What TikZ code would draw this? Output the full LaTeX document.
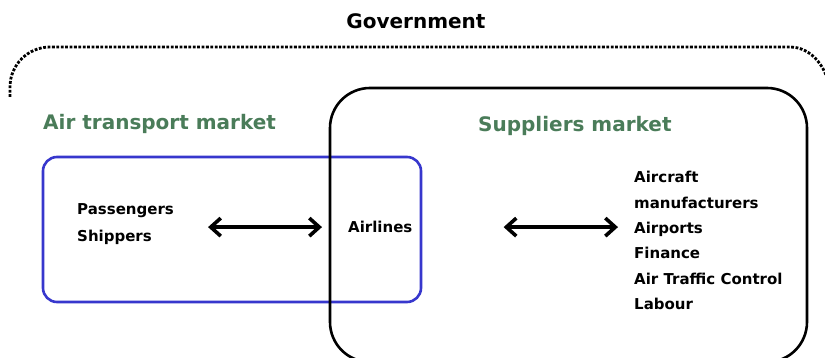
\documentclass[tikz,border=0pt]{standalone}
\usepackage{fontspec}
\setmainfont{DejaVu Sans}
\usetikzlibrary{arrows.meta}
\definecolor{mktgreen}{RGB}{74,124,89}
\definecolor{mktblue}{RGB}{55,55,205}

\begin{document}
\begin{tikzpicture}[%
    x = 1pt, y = -1pt,
    every node/.style = {draw=none, fill=none, inner sep=0pt, font=\bfseries\fontsize{15}{25.3}\selectfont},
    title/.style = {font=\bfseries\fontsize{20}{24}\selectfont, anchor=base},
    mkttitle/.style = {title, text=mktgreen, anchor=base west},
    item/.style = {anchor=base west, align=left},
    govline/.style = {draw=black, line width=2.8pt, dash pattern=on 2.8pt off 1.6pt},
    airbox/.style = {draw=mktblue, line width=2.6pt, rounded corners=14pt},
    supbox/.style = {draw=black, line width=2.6pt, rounded corners=40pt},
    dblarrow/.style = {draw=black, line width=3.6pt, {Straight Barb[length=10pt,width=18pt]}-{Straight Barb[length=10pt,width=18pt]}}%
  ]
    \useasboundingbox (0,0) rectangle (825,358);

    \draw[govline] (10,97) -- (10,87) arc[start angle=180, end angle=270, radius=40]
      -- (790,47) arc[start angle=270, end angle=360, x radius=40, y radius=50] -- ++(0,20);
    \draw[airbox] (43,157) rectangle (421,302);
    \draw[supbox] (330,88) rectangle (807,362);

    \node[title] (gov) at (416,29) {Government};
    \node[mkttitle] (airmkt) at (43,130) {Air transport market};
    \node[mkttitle] (supmkt) at (478,132) {Suppliers market};

    \node[item, font=\bfseries\fontsize{15}{27}\selectfont] (pax) at (77,242) {Passengers\\Shippers};
    \node[item] (airlines) at (348,232.7) {Airlines};
    \node[item] (suppliers) at (634,309.3) {Aircraft\\manufacturers\\Airports\\Finance\\Air Traffic Control\\Labour};

    \draw[dblarrow, shorten <=34pt, shorten >=26pt] (pax.east |- airlines.west) -- (airlines.west);
    \draw[dblarrow, shorten <=91pt, shorten >=16pt] (airlines.east) -- (suppliers.west |- airlines.east);
  \end{tikzpicture}
\end{document}
